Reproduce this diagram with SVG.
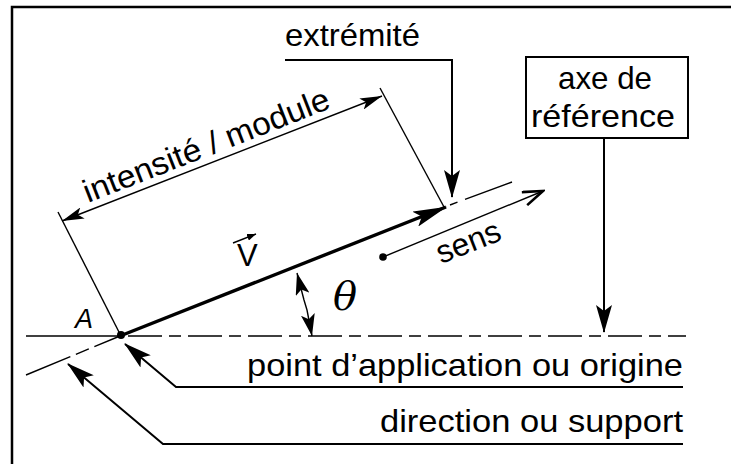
<svg xmlns="http://www.w3.org/2000/svg" width="731" height="464" viewBox="0 0 731 464">
<style>
  text { font-family: "Liberation Sans", Arial, sans-serif; fill: #000; }
  .lbl { font-size: 32px; }
  .thin { stroke: #000; stroke-width: 1.4; fill: none; }
  .med { stroke: #000; stroke-width: 2; fill: none; }
  .thick { stroke: #000; stroke-width: 3.4; fill: none; }
</style>
<defs>
  <marker id="bigHead" viewBox="0 0 34 16" refX="33" refY="8" markerWidth="34" markerHeight="16" markerUnits="userSpaceOnUse" orient="auto-start-reverse">
    <path d="M0,0 L34,8 L0,16 L7,8 z" fill="#000"/>
  </marker>
  <marker id="leadHead" viewBox="0 0 28 16" refX="27" refY="8" markerWidth="28" markerHeight="16" markerUnits="userSpaceOnUse" orient="auto-start-reverse">
    <path d="M0,0 L28,8 L0,16 L6,8 z" fill="#000"/>
  </marker>
  <marker id="dimHead" viewBox="0 0 22 12" refX="22" refY="6" markerWidth="22" markerHeight="12" markerUnits="userSpaceOnUse" orient="auto-start-reverse">
    <path d="M0,0 L22,6 L0,12 L5,6 z" fill="#000"/>
  </marker>
  <marker id="angHead" viewBox="0 0 22 14" refX="22" refY="7" markerWidth="22" markerHeight="14" markerUnits="userSpaceOnUse" orient="auto-start-reverse">
    <path d="M0,0 L22,7 L0,14 L5,7 z" fill="#000"/>
  </marker>
  <marker id="openHead" viewBox="0 0 24 16" refX="22" refY="8" markerWidth="24" markerHeight="16" markerUnits="userSpaceOnUse" orient="auto">
    <path d="M2,1 L22,8 L2,15" fill="none" stroke="#000" stroke-width="2.6"/>
  </marker>
  <marker id="tinyHead" viewBox="0 0 9 7" refX="9" refY="3.5" markerWidth="9" markerHeight="7" markerUnits="userSpaceOnUse" orient="auto">
    <path d="M0,0 L9,3.5 L0,7 z" fill="#000"/>
  </marker>
</defs>

<!-- frame -->
<g id="frame">
  <path d="M12,464 L12,7 L731,7" fill="none" stroke="#000" stroke-width="2.5"/>
</g>

<g id="connectors">
  <!-- reference axis -->
  <line class="thin" x1="26" y1="336" x2="120" y2="336"/>
  <line class="thin" x1="128" y1="336" x2="686" y2="336" stroke-dasharray="34,7,12,7"/>
  <!-- direction / support line -->
  <line class="thin" x1="26" y1="375" x2="120" y2="336" stroke-dasharray="48,6,14,6,60"/>
  <line class="thin" x1="450" y1="205" x2="512" y2="182" stroke-dasharray="8,8,60"/>
  <!-- extension lines -->
  <line class="thin" x1="58" y1="212" x2="121" y2="336"/>
  <line class="thin" x1="380" y1="88" x2="444" y2="207"/>
  <!-- dimension arrow -->
  <line class="thin" x1="62" y1="221" x2="382" y2="96" marker-start="url(#dimHead)" marker-end="url(#dimHead)"/>
  <!-- vector V -->
  <line class="thick" x1="120" y1="336" x2="446" y2="207" marker-end="url(#bigHead)"/>
  <circle cx="121" cy="335" r="4" fill="#000"/>
  <!-- sens arrow -->
  <line class="thin" x1="383" y1="257" x2="543" y2="191" marker-end="url(#openHead)"/>
  <circle cx="383" cy="257" r="3.8" fill="#000"/>
  <!-- angle theta arrow -->
  <path class="thin" d="M297,273 L304,300 L307,310 L312,336" marker-start="url(#angHead)" marker-end="url(#angHead)"/>
  <!-- extrémité leader -->
  <path class="med" d="M285,60 L452,60 L452,197" marker-end="url(#leadHead)"/>
  <!-- axe de référence leader -->
  <line class="med" x1="604" y1="138" x2="604" y2="332" marker-end="url(#leadHead)"/>
  <!-- point d'application leader -->
  <path class="med" d="M683,387 L176,387 L125,344" marker-end="url(#leadHead)"/>
  <!-- direction leader -->
  <path class="med" d="M683,444 L163,444 L68,364" marker-end="url(#leadHead)"/>
  <!-- small arrow over V -->
  <line x1="233" y1="243" x2="256" y2="234" stroke="#000" stroke-width="1.4" marker-end="url(#tinyHead)"/>
</g>

<g id="label-extremite">
  <text class="lbl" x="285" y="46" textLength="135" lengthAdjust="spacingAndGlyphs">extrémité</text>
</g>

<g id="box-axe">
  <rect x="526" y="57" width="162" height="81" fill="#fff" stroke="#000" stroke-width="2"/>
  <text class="lbl" x="605" y="89" text-anchor="middle" textLength="94" lengthAdjust="spacingAndGlyphs">axe de</text>
  <text class="lbl" x="603" y="127" text-anchor="middle" textLength="144" lengthAdjust="spacingAndGlyphs">référence</text>
</g>

<g id="label-intensite">
  <text class="lbl" transform="translate(88,203) rotate(-21.3)" textLength="262" lengthAdjust="spacingAndGlyphs">intensité / module</text>
</g>

<g id="label-V">
  <text x="237" y="266" font-size="31">V</text>
</g>

<g id="label-theta">
  <text x="333" y="310" font-size="40" font-style="italic" style="font-family: 'DejaVu Serif', 'Liberation Serif', serif">θ</text>
</g>

<g id="label-A">
  <text x="75" y="328" font-size="27" font-style="italic">A</text>
</g>

<g id="label-sens">
  <text class="lbl" transform="translate(441,264) rotate(-21.5)" textLength="67" lengthAdjust="spacingAndGlyphs">sens</text>
</g>

<g id="label-point">
  <text class="lbl" x="247" y="376" textLength="436" lengthAdjust="spacingAndGlyphs">point d’application ou origine</text>
</g>

<g id="label-direction">
  <text class="lbl" x="380" y="432" textLength="303" lengthAdjust="spacingAndGlyphs">direction ou support</text>
</g>
</svg>
